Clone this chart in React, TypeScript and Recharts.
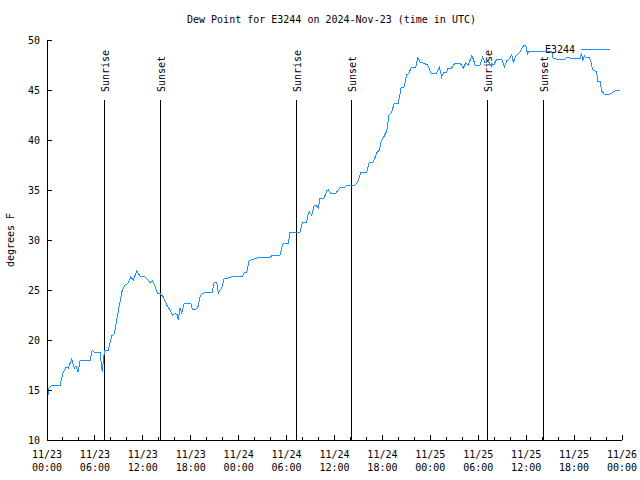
import { LineChart, Line, XAxis, YAxis, ReferenceLine } from "recharts";

const FONT = "'DejaVu Sans Mono', monospace";
const LINE_COLOR = "#1e90ff";

const TITLE = "Dew Point for E3244 on 2024-Nov-23 (time in UTC)";
const SERIES_NAME = "E3244";
const Y_LABEL = "degrees F";

// [hour of day (UTC), dew point F], one array per day
const nov23: [number, number][] = [
  [0.1, 14.3], [0.25, 15.2], [0.5, 15.4], [0.91, 15.5], [1.67, 15.5], [1.84, 16.2],
  [2.04, 16.8], [2.38, 17.3], [2.67, 17.2], [3.09, 18.1], [3.42, 17.2], [3.63, 17.4],
  [3.88, 16.8], [4.17, 18.0], [5.42, 18.0], [5.67, 19.0], [5.92, 18.8], [6.64, 18.8],
  [6.85, 17.3], [6.92, 16.8], [7.1, 18.3], [7.26, 19.0], [7.68, 19.0], [8.1, 20.4],
  [8.43, 20.6], [8.73, 22.0], [9.02, 23.3], [9.43, 25.0], [9.77, 25.5], [10.18, 25.7],
  [10.48, 26.3], [10.81, 26.0], [11.23, 26.9], [11.65, 26.4], [12.27, 26.3], [12.68, 26.0],
  [12.9, 25.7], [13.19, 25.9], [13.52, 25.4], [13.81, 24.7], [14.24, 24.6], [14.56, 24.3],
  [14.99, 23.5], [15.4, 23.0], [15.74, 22.5], [16.03, 22.7], [16.32, 22.5], [16.44, 22.0],
  [16.65, 23.2], [16.87, 22.7], [17.16, 23.6], [17.69, 23.7], [17.99, 23.7], [18.19, 23.1],
  [18.66, 23.1], [18.95, 23.4], [19.16, 24.3], [19.37, 24.6], [19.66, 24.7], [20.0, 24.8],
  [20.7, 24.8], [20.91, 25.7], [21.25, 25.8], [21.45, 24.7], [21.66, 25.0], [21.88, 25.2],
  [22.16, 26.1], [22.7, 26.2], [23.33, 26.4],
];

const nov24: [number, number][] = [
  [0.5, 26.4], [0.67, 26.7], [1.01, 26.8], [1.29, 27.9], [1.51, 28.0], [2.26, 28.2],
  [4.01, 28.3], [4.17, 28.5], [5.18, 28.5], [5.39, 29.2], [5.59, 29.7], [6.22, 29.7],
  [6.43, 30.8], [7.68, 30.8], [7.97, 31.7], [8.52, 31.8], [8.72, 32.7], [8.85, 32.8],
  [9.15, 32.5], [9.43, 33.4], [9.68, 33.5], [9.97, 33.2], [10.18, 34.2], [10.69, 34.2],
  [11.02, 34.9], [11.22, 35.0], [11.52, 34.7], [12.19, 34.7], [12.35, 34.9], [12.69, 35.2],
  [13.32, 35.3], [13.6, 35.5], [14.57, 35.5], [14.91, 35.8], [15.32, 36.8], [16.03, 36.8],
  [16.32, 37.7], [16.86, 37.8], [17.29, 38.7], [17.61, 39.0], [17.82, 39.8], [18.24, 40.4],
  [18.54, 40.9], [18.83, 42.5], [19.16, 42.8], [19.49, 43.7], [19.99, 43.7], [20.33, 45.2],
  [20.74, 45.3], [21.04, 46.5], [21.33, 46.7], [21.58, 47.2], [21.87, 47.3], [22.17, 47.3],
  [22.42, 48.2], [22.71, 47.8], [23.12, 47.7], [23.67, 47.5],
];

const nov25: [number, number][] = [
  [0.08, 46.7], [0.8, 46.7], [1.12, 47.3], [1.42, 46.3], [1.71, 46.8], [1.96, 46.7],
  [2.25, 47.2], [2.59, 47.1], [3.09, 47.7], [3.72, 47.7], [4.13, 47.2], [4.43, 47.7],
  [4.76, 47.5], [5.18, 48.4], [5.38, 48.1], [5.6, 47.5], [6.22, 47.5], [6.56, 48.3],
  [6.85, 47.7], [7.22, 47.9], [7.47, 47.6], [8.01, 47.6], [8.31, 48.1], [8.94, 48.1],
  [9.26, 47.3], [9.56, 47.9], [9.89, 48.1], [10.19, 48.5], [10.39, 47.8], [10.73, 48.4],
  [11.23, 48.8], [11.64, 49.4], [11.94, 49.5], [12.17, 48.6], [12.39, 48.9], [15.2, 48.9],
  [15.32, 48.2], [15.74, 48.1], [16.86, 48.1], [17.15, 48.3], [17.49, 48.2], [18.74, 48.1],
  [18.95, 48.7], [19.08, 47.9], [19.28, 48.4], [19.49, 48.2], [19.87, 48.3], [20.08, 48.0],
  [20.33, 47.0], [20.62, 46.9], [20.83, 46.8], [20.96, 45.9], [21.25, 45.9], [21.46, 44.9],
  [21.75, 44.6], [22.29, 44.5], [22.71, 44.7], [23.13, 44.9], [23.42, 45.0], [23.75, 45.0],
];

const days = [nov23, nov24, nov25];

// hours since 11/23 00:00 UTC
const sunriseHours = [7.18, 31.22, 55.13];
const sunsetHours = [14.19, 38.13, 62.15];

const xTicks = Array.from({ length: 37 }, (_, i) => i * 2);
const yTicks = [10, 15, 20, 25, 30, 35, 40, 45, 50];

const data = days.flatMap((rows, d) =>
  rows.map(([t, v]) => ({ h: d * 24 + t, v }))
);

function BottomTick(props: any) {
  const { x, y, payload } = props;
  const h = payload.value as number;
  const major = h % 6 === 0;
  const day = 23 + Math.floor(h / 24);
  const hh = String(h % 24).padStart(2, "0");
  return (
    <g>
      <line x1={x} x2={x} y1={y} y2={y - (major ? 5 : 3)} stroke="#000" shapeRendering="crispEdges" />
      {major && (
        <text textAnchor="middle" fontFamily={FONT} fontSize={10} fill="#000">
          <tspan x={x} y={y + 17.5}>11/{day}</tspan>
          <tspan x={x} y={y + 30.5}>{hh}:00</tspan>
        </text>
      )}
    </g>
  );
}

function TopTick(props: any) {
  const { x, y, payload } = props;
  const major = payload.value % 6 === 0;
  return (
    <line x1={x} x2={x} y1={y} y2={y + (major ? 5 : 3)} stroke="#000" shapeRendering="crispEdges" />
  );
}

const sunLabel = (text: string) => (props: any) => {
  const { x, y } = props.viewBox;
  return (
    <text
      transform={`translate(${x + 4.5},${y - 8}) rotate(-90)`}
      fontFamily={FONT}
      fontSize={10}
      fill="#000"
    >
      {text}
    </text>
  );
};

const axisLine = { stroke: "#000", shapeRendering: "crispEdges" };

export default function App() {
  const sunLines = [
    ...sunriseHours.map((h) => ({ h, text: "Sunrise" })),
    ...sunsetHours.map((h) => ({ h, text: "Sunset" })),
  ];

  return (
    <div style={{ position: "absolute", left: 0, top: 0, width: 640, height: 480, background: "#fff" }}>
      <LineChart width={640} height={480} data={data} margin={{ top: 40, right: 18, bottom: 0, left: 0 }}>
        <XAxis
          xAxisId="bottom"
          dataKey="h"
          type="number"
          domain={[0, 72]}
          ticks={xTicks}
          interval={0}
          height={40}
          tickSize={0}
          tickMargin={0}
          tickLine={false}
          axisLine={axisLine}
          tick={<BottomTick />}
        />
        <XAxis
          xAxisId="top"
          orientation="top"
          type="number"
          domain={[0, 72]}
          ticks={xTicks}
          interval={0}
          height={0}
          tickSize={0}
          tickMargin={0}
          tickLine={false}
          axisLine={axisLine}
          tick={<TopTick />}
        />
        <YAxis
          yAxisId="left"
          type="number"
          domain={[10, 50]}
          ticks={yTicks}
          interval={0}
          width={47}
          tickSize={-5}
          tickMargin={12}
          axisLine={axisLine}
          tickLine={{ stroke: "#000", shapeRendering: "crispEdges" }}
          tick={{ fill: "#000", fontFamily: FONT, fontSize: 10 }}
          label={(p: any) => (
            <text
              transform={`translate(13.5,${p.viewBox.y + p.viewBox.height / 2}) rotate(-90)`}
              textAnchor="middle"
              fontFamily={FONT}
              fontSize={10}
              fill="#000"
            >
              {Y_LABEL}
            </text>
          )}
        />
        <YAxis
          yAxisId="right"
          orientation="right"
          type="number"
          domain={[10, 50]}
          ticks={yTicks}
          interval={0}
          width={0}
          tickSize={-5}
          axisLine={axisLine}
          tickLine={{ stroke: "#000", shapeRendering: "crispEdges" }}
          tick={false}
        />
        {sunLines.map((s) => (
          <ReferenceLine
            key={`${s.text}-${s.h}`}
            xAxisId="bottom"
            yAxisId="left"
            segment={[{ x: s.h, y: 10 }, { x: s.h, y: 44 }]}
            stroke="#000"
            strokeWidth={1}
            shapeRendering="crispEdges"
            label={sunLabel(s.text)}
          />
        ))}
        <Line
          xAxisId="bottom"
          yAxisId="left"
          dataKey="v"
          name={SERIES_NAME}
          type="linear"
          stroke={LINE_COLOR}
          strokeWidth={1}
          shapeRendering="crispEdges"
          dot={false}
          isAnimationActive={false}
        />
        <text x={331.5} y={23} textAnchor="middle" fontFamily={FONT} fontSize={10} fill="#000">
          {TITLE}
        </text>
        <text x={575} y={53} textAnchor="end" fontFamily={FONT} fontSize={10} fill="#000">
          {SERIES_NAME}
        </text>
        <line x1={581} x2={610} y1={49.5} y2={49.5} stroke={LINE_COLOR} strokeWidth={1} />
      </LineChart>
    </div>
  );
}
